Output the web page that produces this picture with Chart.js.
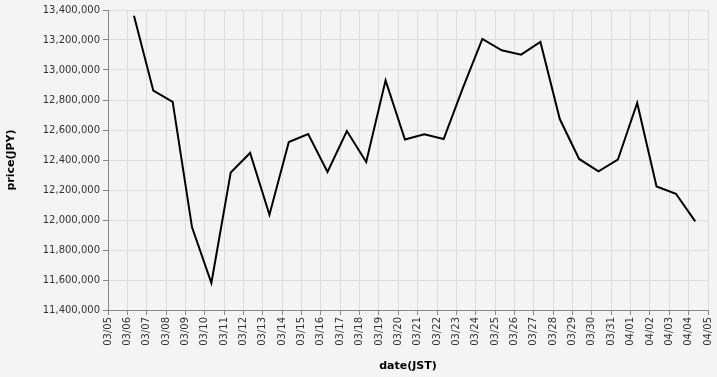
<!DOCTYPE html>
<html>
<head>
<meta charset="utf-8">
<script src="https://cdn.jsdelivr.net/npm/chart.js@4"></script>
<style>
  html, body { margin: 0; padding: 0; background: #f4f4f4; }
  #priceChart { display: block; }
</style>
</head>
<body>
<canvas id="priceChart" width="717" height="377"></canvas>
<script>
// x axis tick labels, one per day
var tickDates = ['03/05', '03/06', '03/07', '03/08', '03/09', '03/10', '03/11', '03/12', '03/13', '03/14',
  '03/15', '03/16', '03/17', '03/18', '03/19', '03/20', '03/21', '03/22', '03/23', '03/24', '03/25',
  '03/26', '03/27', '03/28', '03/29', '03/30', '03/31', '04/01', '04/02', '04/03', '04/04', '04/05'];

// one sample a day, taken in the morning (JST)
var sampleHour = 8.2;
var dates = ['03/06', '03/07', '03/08', '03/09', '03/10', '03/11', '03/12', '03/13', '03/14', '03/15',
  '03/16', '03/17', '03/18', '03/19', '03/20', '03/21', '03/22', '03/23', '03/24', '03/25',
  '03/26', '03/27', '03/28', '03/29', '03/30', '03/31', '04/01', '04/02', '04/03', '04/04'];
var prices = [13362000, 12862000, 12787000, 11951000, 11580000, 12317000, 12447000, 12035000, 12520000, 12573000,
  12320000, 12593000, 12387000, 12931000, 12537000, 12571000, 12540000, 12882000, 13207000, 13131000,
  13102000, 13187000, 12673000, 12407000, 12324000, 12402000, 12780000, 12224000, 12175000, 11991000];

var points = dates.map(function (d, i) {
  return { x: tickDates.indexOf(d) + sampleHour / 24, y: prices[i] };
});

var tickFont = { family: 'DejaVu Sans', size: 10 };
var titleFont = { family: 'DejaVu Sans', size: 11, weight: 'bold' };

var ctx = document.getElementById('priceChart').getContext('2d');
var priceChart = new Chart(ctx, {
  type: 'line',
  data: {
    datasets: [{
      label: 'price',
      data: points,
      borderColor: '#000',
      borderWidth: 2,
      pointRadius: 0,
      tension: 0,
      fill: false
    }]
  },
  options: {
    responsive: false,
    animation: false,
    layout: { padding: { top: 10, right: 9, left: 0, bottom: 0 } },
    plugins: { legend: { display: false }, tooltip: { enabled: false } },
    scales: {
      x: {
        type: 'linear',
        min: 0,
        max: tickDates.length - 1,
        afterFit: function (s) {
          s.height = 67;
          s.paddingLeft = 0;
          s.paddingRight = 0;
        },
        afterBuildTicks: function (s) {
          s.ticks = tickDates.map(function (d, i) { return { value: i }; });
        },
        ticks: {
          autoSkip: false,
          minRotation: 90,
          maxRotation: 90,
          padding: 2,
          color: '#333',
          font: tickFont,
          callback: function (v) { return tickDates[v]; }
        },
        grid: { color: '#dddddd', tickColor: '#888', tickLength: 5 },
        border: { color: '#888' },
        title: { display: true, text: 'date(JST)', color: '#000', font: titleFont, padding: { top: 0, bottom: 4 } }
      },
      y: {
        min: 11400000,
        max: 13400000,
        afterFit: function (s) {
          s.width = 108;
          s.paddingTop = 0;
          s.paddingBottom = 0;
        },
        ticks: {
          stepSize: 200000,
          padding: 3,
          color: '#333',
          font: tickFont,
          callback: function (v) { return v.toLocaleString('en-US'); }
        },
        grid: { color: '#dddddd', tickColor: '#888', tickLength: 5 },
        border: { color: '#888' },
        title: { display: true, text: 'price(JPY)', color: '#000', font: titleFont, padding: { top: 5, bottom: 0 } }
      }
    }
  }
});
</script>
</body>
</html>
